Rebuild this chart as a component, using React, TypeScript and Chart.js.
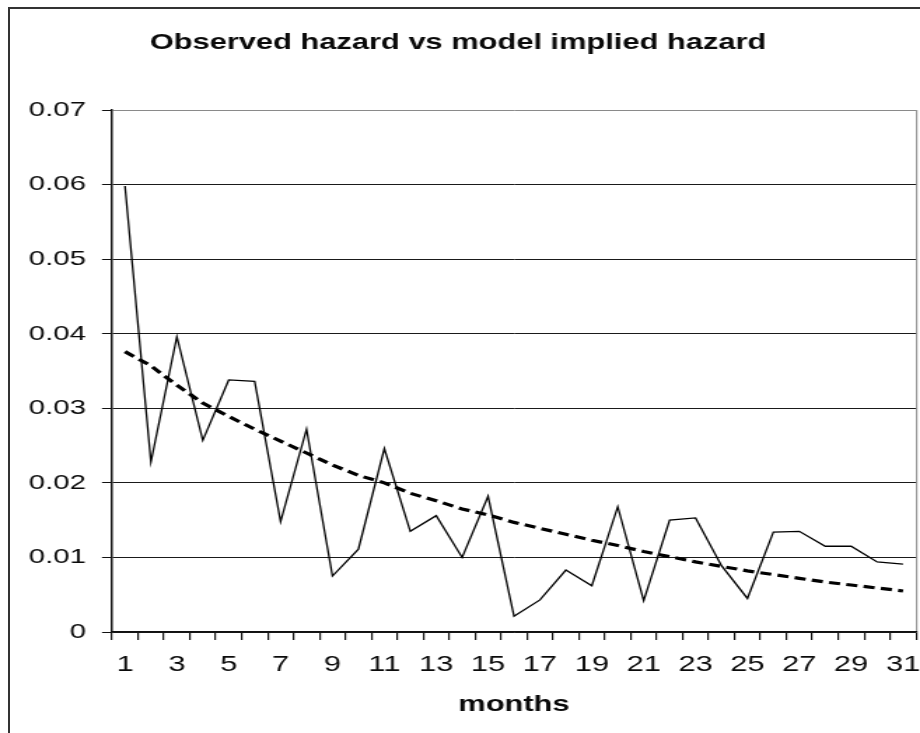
import React, { useEffect, useRef } from "react";
import { Chart, registerables } from "chart.js";

Chart.register(...registerables);

const chartTitle = "Observed hazard vs model implied hazard";
const xAxisTitle = "months";

const months = [
  "1", "2", "3", "4", "5", "6", "7", "8", "9", "10",
  "11", "12", "13", "14", "15", "16", "17", "18", "19", "20",
  "21", "22", "23", "24", "25", "26", "27", "28", "29", "30", "31",
];

const observedHazard = [
  0.0598, 0.0228, 0.0396, 0.0257, 0.0338, 0.0336, 0.0148, 0.0272, 0.0075, 0.0111,
  0.0246, 0.0135, 0.0156, 0.0100, 0.0182, 0.0021, 0.0043, 0.0083, 0.0062, 0.0168,
  0.0042, 0.0150, 0.0153, 0.0089, 0.0045, 0.0134, 0.0135, 0.0115, 0.0115, 0.0094, 0.0091,
];

const modelHazard = [
  0.0376, 0.0357, 0.0331, 0.0307, 0.0289, 0.0272, 0.0256, 0.0240, 0.0224, 0.0210,
  0.0200, 0.0186, 0.0176, 0.0165, 0.0157, 0.0147, 0.0139, 0.0131, 0.0123, 0.0116,
  0.0108, 0.0101, 0.0094, 0.0088, 0.0082, 0.0077, 0.0072, 0.0067, 0.0063, 0.0059, 0.0055,
];

const yMin = 0;
const yMax = 0.07;
const yStep = 0.01;

// The reference is a horizontally stretched picture of the chart
const PAGE_W = 920;
const PAGE_H = 733;
const CANVAS_W = 657;
const S = PAGE_W / CANVAS_W;

const FONT = "'Liberation Sans', Arial, Helvetica, sans-serif";

export default function App() {
  const ref = useRef<HTMLCanvasElement | null>(null);

  useEffect(() => {
    const canvas = ref.current;
    if (!canvas) return;
    const chart = new Chart(canvas, {
      type: "line",
      data: {
        labels: months,
        datasets: [
          {
            label: "observed",
            data: observedHazard,
            borderColor: "#000",
            borderWidth: 1.3,
            pointRadius: 0,
            tension: 0,
            fill: false,
          },
          {
            label: "model",
            data: modelHazard,
            borderColor: "#000",
            borderWidth: 3.2,
            borderDash: [8, 4.5],
            pointRadius: 0,
            tension: 0,
            fill: false,
          },
        ],
      },
      options: {
        responsive: false,
        maintainAspectRatio: false,
        devicePixelRatio: 1,
        animation: false,
        events: [],
        layout: { padding: { left: 0, right: 4 / S, top: 0, bottom: 0 } },
        plugins: {
          legend: { display: false },
          tooltip: { enabled: false },
          title: {
            display: true,
            text: chartTitle,
            color: "#0a0a0a",
            font: { family: FONT, size: 22, weight: "bold", lineHeight: 1.2 },
            padding: { top: 29.8, bottom: 53.8 },
          },
        },
        scales: {
          x: {
            type: "category",
            offset: true,
            grid: {
              display: true,
              offset: true,
              drawOnChartArea: true,
              drawTicks: true,
              tickLength: 8,
              lineWidth: 1.2,
              color: (ctx: any) => (ctx.index === undefined ? "#9a9a9a" : "rgba(0,0,0,0)"),
              tickColor: "#111",
              tickWidth: 1.2,
            },
            border: { display: true, color: "#111", width: 1.5 },
            ticks: {
              autoSkip: false,
              maxRotation: 0,
              minRotation: 0,
              padding: 11.8,
              color: "#0a0a0a",
              font: { family: FONT, size: 22 },
              callback: (_v: any, i: number) => (i % 2 === 0 ? months[i] : ""),
            },
            title: {
              display: true,
              text: xAxisTitle,
              color: "#0a0a0a",
              font: { family: FONT, size: 22, weight: "bold", lineHeight: 1.2 },
              padding: { top: 0, bottom: 14.8 },
            },
            afterFit: (scale: any) => {
              scale.height = PAGE_H - 632;
              scale.paddingLeft = 0;
              scale.paddingRight = 0;
            },
          },
          y: {
            type: "linear",
            min: yMin,
            max: yMax,
            grid: {
              display: true,
              drawTicks: true,
              tickLength: 10 / S,
              lineWidth: 1,
              color: (ctx: any) =>
                ctx.tick && Math.abs(ctx.tick.value - yMax) < 1e-9 ? "#8a8a8a" : "#1a1a1a",
              tickColor: "#111",
            },
            border: { display: true, color: "#111", width: 1.5 },
            ticks: {
              stepSize: yStep,
              padding: 16 / S,
              color: "#0a0a0a",
              font: { family: FONT, size: 21 },
              callback: (v: any) => (Math.abs(Number(v)) < 1e-9 ? "0" : Number(v).toFixed(2)),
            },
            afterFit: (scale: any) => {
              scale.width = 112 / S;
            },
          },
        },
      },
    });
    return () => chart.destroy();
  }, []);

  return (
    <div style={{ position: "absolute", left: 0, top: 0, width: PAGE_W, height: PAGE_H, overflow: "hidden" }}>
      <div
        style={{
          position: "absolute",
          left: 8,
          top: 7,
          width: PAGE_W - 8,
          height: PAGE_H - 7,
          borderLeft: "2px solid #333",
          borderTop: "2px solid #333",
          boxSizing: "border-box",
        }}
      />
      <canvas
        ref={ref}
        width={CANVAS_W}
        height={PAGE_H}
        style={{ position: "absolute", left: 0, top: 0, width: PAGE_W, height: PAGE_H, display: "block" }}
      />
    </div>
  );
}
